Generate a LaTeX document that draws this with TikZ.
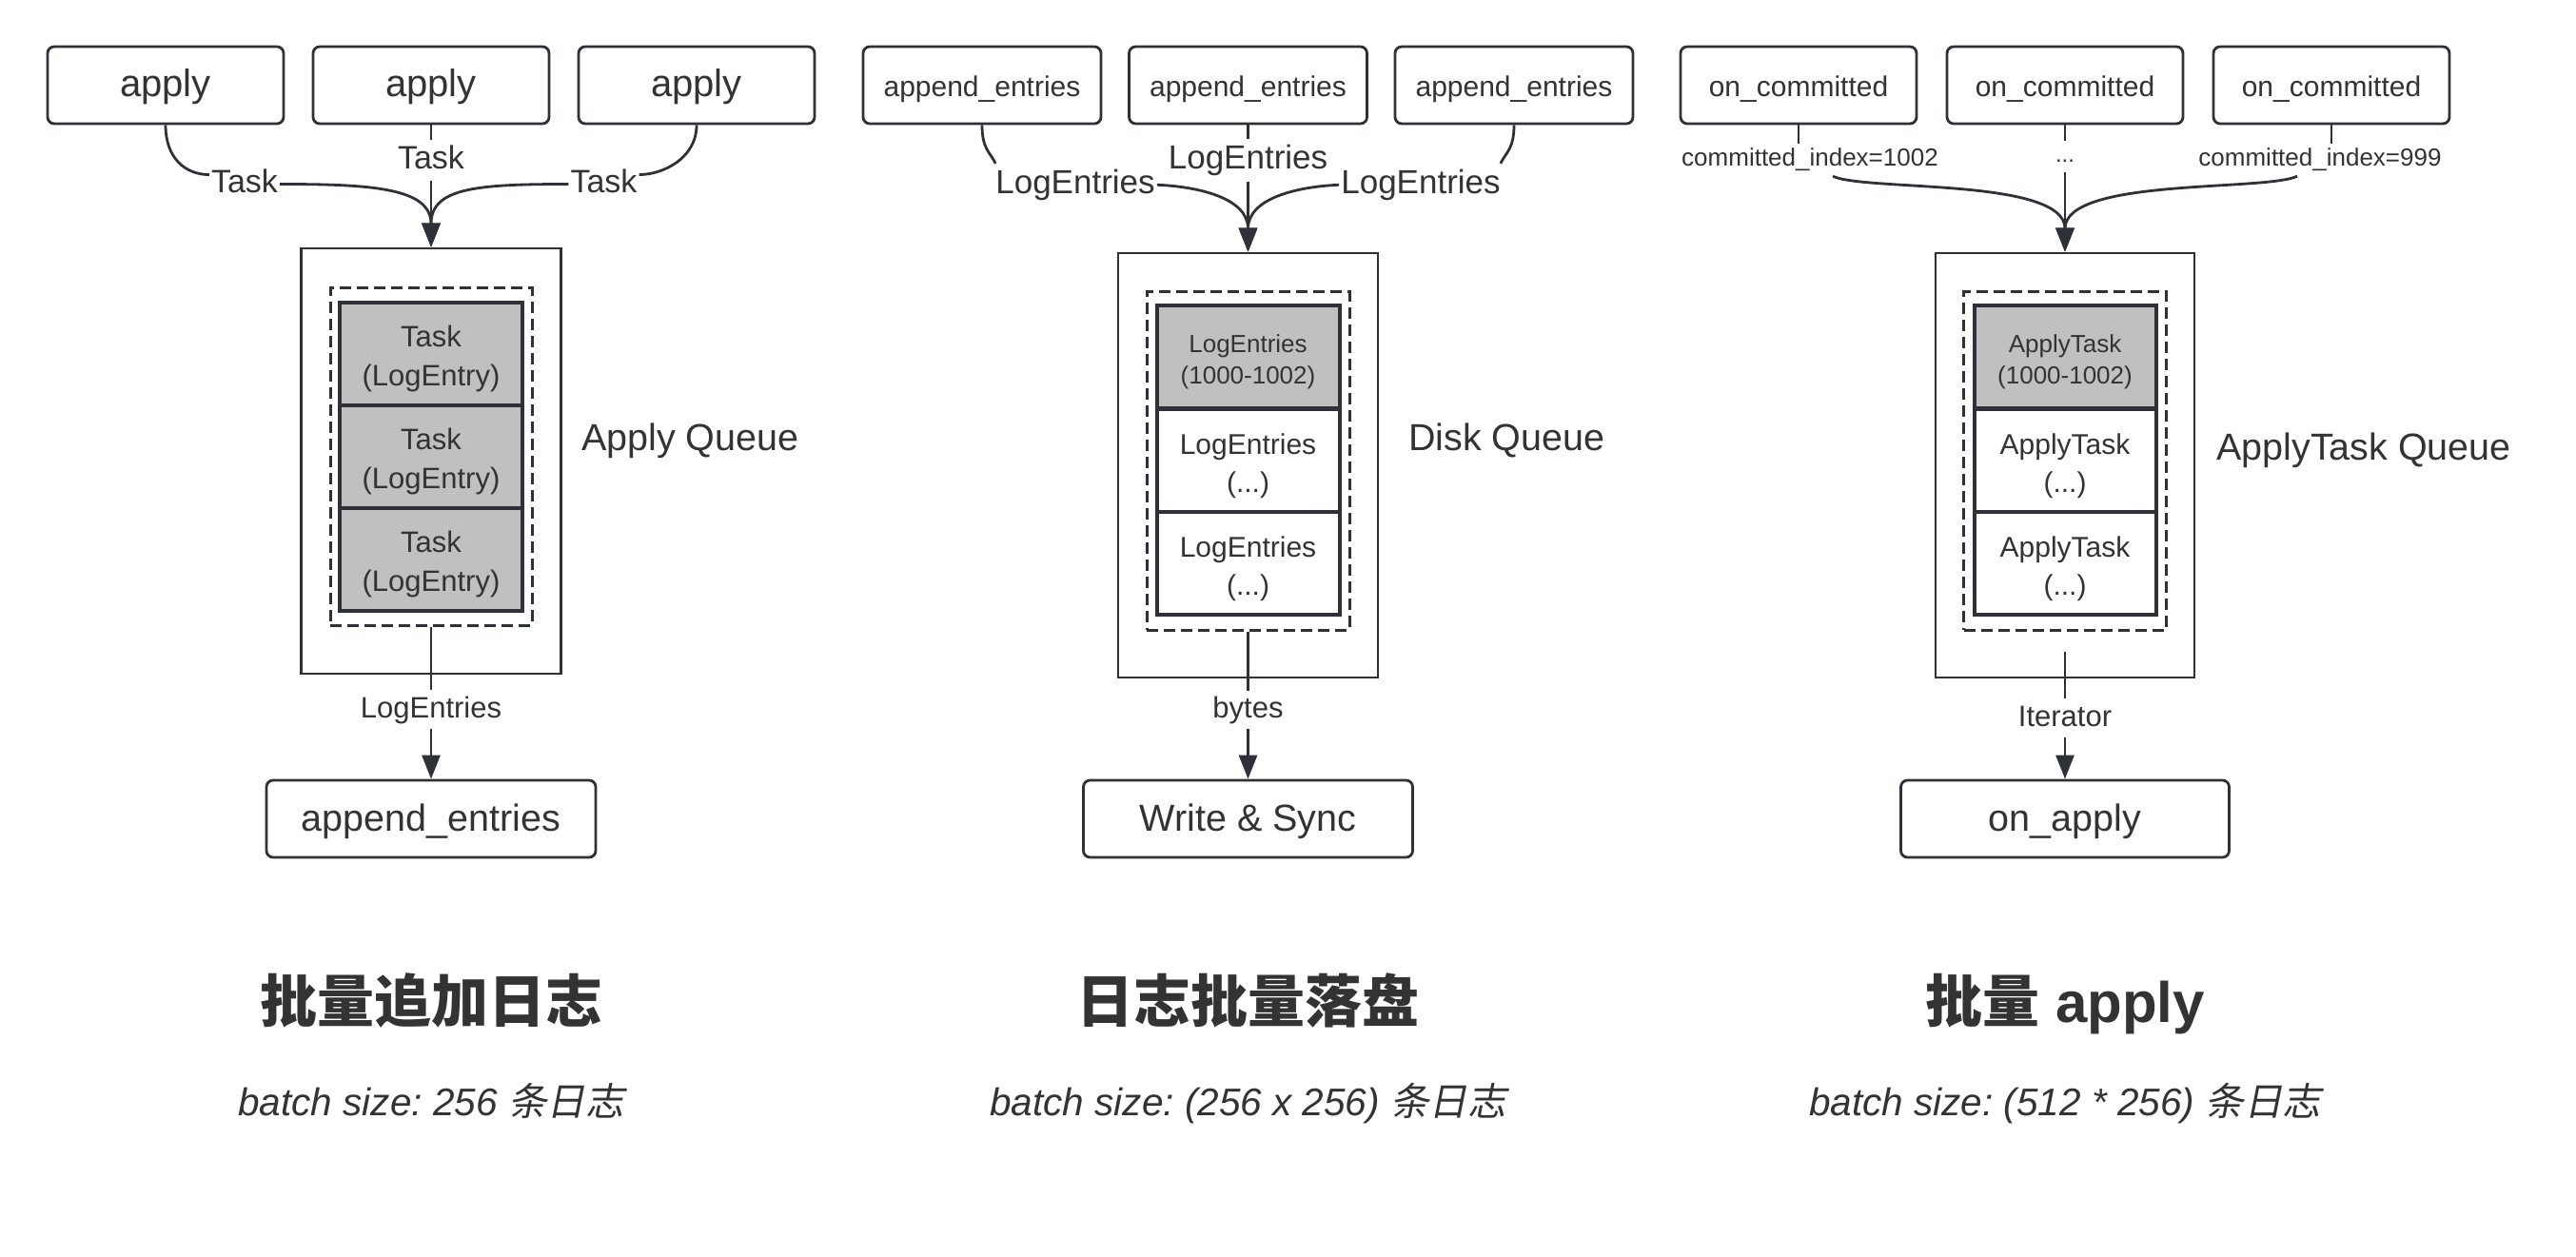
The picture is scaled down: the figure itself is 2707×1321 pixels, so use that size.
\documentclass[tikz,border=0pt]{standalone}
\usepackage{fontspec}
\setmainfont{Liberation Sans}
\newfontfamily\cjk{Noto Sans CJK SC}
\newfontfamily\cjkit{Noto Sans CJK SC}[FakeSlant=0.2]
\usetikzlibrary{arrows.meta,calc}
\definecolor{ln}{HTML}{2E3238}
\definecolor{tx}{HTML}{333333}
\definecolor{cellgray}{HTML}{C0C0C0}
\newcommand{\fsz}[2]{\fontsize{#1}{#2}\selectfont}
\frenchspacing
\begin{document}
\begin{tikzpicture}[x=1pt,y=1pt,
  box/.style={draw=ln, line width=2.8pt, rounded corners=7pt, minimum height=81pt, inner sep=0pt, text=tx, text height=25pt, text depth=0pt},
  queue/.style={draw=ln, line width=2.8pt, inner sep=0pt},
  dashbox/.style={draw=ln, line width=3pt, dash pattern=on 12pt off 6pt, inner sep=0pt},
  cell/.style={draw=ln, line width=4pt, inner sep=0pt, minimum height=108pt, align=center, text=tx},
  lbl/.style n args={3}{font=\fsz{#1}{#1}, text=tx, anchor=base, inner sep=2pt, text height=#2pt, text depth=#3pt},
  side/.style={font=\fsz{39.5}{48}, text=tx, anchor=base west, inner sep=0pt},
  ttl/.style={font=\fsz{60}{72}, text=tx, anchor=base, inner sep=0pt},
  sub/.style={font=\fsz{40.5}{48}, text=tx, anchor=base, inner sep=0pt},
  edge/.style={draw=ln, line width=2.8pt},
  arr/.style={edge, -{Triangle[length=25pt,width=19pt]}},
]
\fill[white] (0,0) rectangle (2707,-1321);
\useasboundingbox (0,0) rectangle (2707,-1321);

% ---------------- Panel 1 ----------------
\node[box, minimum width=248pt, font=\fsz{40}{48}] (a1) at (174,-89.5) {apply};
\node[box, minimum width=248pt, font=\fsz{40}{48}] (a2) at (453,-89.5) {apply};
\node[box, minimum width=248pt, font=\fsz{40}{48}] (a3) at (732,-89.5) {apply};
\node[queue, minimum width=273pt, minimum height=447pt] (q1) at (453,-484.5) {};
\node[dashbox, minimum width=212pt, minimum height=354pt] (d1) at (453,-480) {};
\node[cell, minimum width=192pt, fill=cellgray, font=\fsz{31}{41}] (k11) at (453,-372) {\rule{0pt}{31.5pt}Task\\(LogEntry)};
\node[cell, minimum width=192pt, fill=cellgray, font=\fsz{31}{41}] (k12) at (453,-480) {\rule{0pt}{31.5pt}Task\\(LogEntry)};
\node[cell, minimum width=192pt, fill=cellgray, font=\fsz{31}{41}] (k13) at (453,-588) {\rule{0pt}{31.5pt}Task\\(LogEntry)};
\node[side] (n1) at (611,-473) {Apply Queue};
\node[lbl={34}{29}{10}] (t1) at (257,-203) {Task};
\node[lbl={34}{29}{10}] (t2) at (453,-178) {Task};
\node[lbl={34}{29}{10}] (t3) at (634.5,-203) {Task};
\node[lbl={31}{26.5}{9.5}] (bl1) at (453,-754) {LogEntries};
\node[box, minimum width=346pt, font=\fsz{39.5}{48}] (e1) at (453,-860.5) {append\_entries};

\draw[edge] (a1.south) .. controls +(0,-35) and +(-25,0) .. (t1.165);
\draw[arr] (t1.east) .. controls +(97,0) and +(0,62) .. (q1.north);
\draw[edge] (a3.south) .. controls +(0,-35) and +(25,0) .. (t3.15);
\draw[arr] (t3.west) .. controls +(-97,0) and +(0,62) .. (q1.north);
\draw[edge] (a2.south) -- (t2.north);
\draw[arr] (t2.south) -- (q1.north);
\draw[edge] (d1.south) -- (bl1.north);
\draw[arr] (bl1.south) -- (e1.north);

% ---------------- Panel 2 ----------------
\node[box, minimum width=250pt, font=\fsz{30}{36}] (b1) at (1032,-89.5) {append\_entries};
\node[box, minimum width=250pt, font=\fsz{30}{36}] (b2) at (1311.5,-89.5) {append\_entries};
\node[box, minimum width=250pt, font=\fsz{30}{36}] (b3) at (1591,-89.5) {append\_entries};
\node[queue, minimum width=273pt, minimum height=446pt] (q2) at (1311.5,-489) {};
\node[dashbox, minimum width=213pt, minimum height=355pt] (d2) at (1311.5,-484.5) {};
\node[cell, minimum width=192pt, fill=cellgray, font=\fsz{26}{33.5}] (k21) at (1311.5,-375) {\rule{0pt}{29pt}LogEntries\\(1000-1002)};
\node[cell, minimum width=192pt, fill=white, font=\fsz{30}{40}] (k22) at (1311.5,-483.5) {\rule{0pt}{33.7pt}LogEntries\\(...)};
\node[cell, minimum width=192pt, fill=white, font=\fsz{30}{40}] (k23) at (1311.5,-591.5) {\rule{0pt}{33.7pt}LogEntries\\(...)};
\node[side] (n2) at (1480,-473) {Disk Queue};
\node[lbl={35}{30}{10.5}] (l21) at (1130,-204) {LogEntries};
\node[lbl={35}{30}{10.5}] (l22) at (1311.5,-178) {LogEntries};
\node[lbl={35}{30}{10.5}] (l23) at (1493,-204) {LogEntries};
\node[lbl={31}{26.5}{9.5}] (bl2) at (1311.5,-754.5) {bytes};
\node[box, minimum width=346pt, font=\fsz{39.5}{48}] (e2) at (1311.5,-860.5) {Write \& Sync};

\draw[edge] (b1.south) .. controls +(0,-25) and +(-6,12) .. (l21.165);
\draw[arr] (l21.east) .. controls +(45,-2) and +(0,56) .. (q2.north);
\draw[edge] (b3.south) .. controls +(0,-25) and +(6,12) .. (l23.15);
\draw[arr] (l23.west) .. controls +(-45,-2) and +(0,56) .. (q2.north);
\draw[edge] (b2.south) -- (l22.north);
\draw[arr] (l22.south) -- (q2.north);
\draw[edge] (d2.south) -- (bl2.north);
\draw[arr] (bl2.south) -- (e2.north);

% ---------------- Panel 3 ----------------
\node[box, minimum width=248pt, font=\fsz{30}{36}] (c1) at (1890,-89.5) {on\_committed};
\node[box, minimum width=248pt, font=\fsz{30}{36}] (c2) at (2170,-89.5) {on\_committed};
\node[box, minimum width=248pt, font=\fsz{30}{36}] (c3) at (2450,-89.5) {on\_committed};
\node[queue, minimum width=272pt, minimum height=446pt] (q3) at (2170,-489) {};
\node[dashbox, minimum width=213pt, minimum height=355pt] (d3) at (2170,-484.5) {};
\node[cell, minimum width=191pt, fill=cellgray, font=\fsz{26}{33.5}] (k31) at (2170,-375) {\rule{0pt}{29pt}ApplyTask\\(1000-1002)};
\node[cell, minimum width=191pt, fill=white, font=\fsz{30}{40}] (k32) at (2170,-483.5) {\rule{0pt}{33.7pt}ApplyTask\\(...)};
\node[cell, minimum width=191pt, fill=white, font=\fsz{30}{40}] (k33) at (2170,-591.5) {\rule{0pt}{33.7pt}ApplyTask\\(...)};
\node[side] (n3) at (2329,-483) {ApplyTask Queue};
\node[lbl={26}{22}{8}] (lc1) at (1902,-175) {committed\_index=1002};
\node[lbl={24}{21}{8}] (lc2) at (2170,-171) {...};
\node[lbl={26}{22}{8}] (lc3) at (2438,-175) {committed\_index=999};
\node[lbl={31}{26.5}{9.5}] (it) at (2170,-763) {Iterator};
\node[box, minimum width=345pt, font=\fsz{39.5}{48}] (e3) at (2170,-860.5) {on\_apply};
\coordinate (s3) at ($(d3.south)+(0,-21)$);

\draw[edge] (c1.south) -- (c1.south |- lc1.north);
\draw[arr] ($(lc1.south)+(24,0)$) .. controls +(34,-16) and +(0,78) .. (q3.north);
\draw[edge] (c3.south) -- (c3.south |- lc3.north);
\draw[arr] ($(lc3.south)+(-24,0)$) .. controls +(-34,-16) and +(0,78) .. (q3.north);
\draw[edge] (c2.south) -- (lc2.north);
\draw[arr] (lc2.south) -- (q3.north);
\draw[edge] (s3) -- (it.north);
\draw[arr] (it.south) -- (e3.north);

% ---------------- Titles ----------------
\node[ttl] (h1) at (453,-1074) {\cjk\bfseries 批量追加日志};
\node[ttl] (h2) at (1311.5,-1074) {\cjk\bfseries 日志批量落盘};
\node[ttl] (h3) at (2170,-1074) {{\cjk\bfseries 批量} {\bfseries apply}};
\node[sub] (s1) at (453,-1172) {{\itshape batch size: 256 }{\cjkit 条日志}};
\node[sub] (s2) at (1311.5,-1172) {{\itshape batch size: (256 x 256) }{\cjkit 条日志}};
\node[sub] (s3t) at (2170,-1172) {{\itshape batch size: (512 * 256) }{\cjkit 条日志}};
\end{tikzpicture}
\end{document}
